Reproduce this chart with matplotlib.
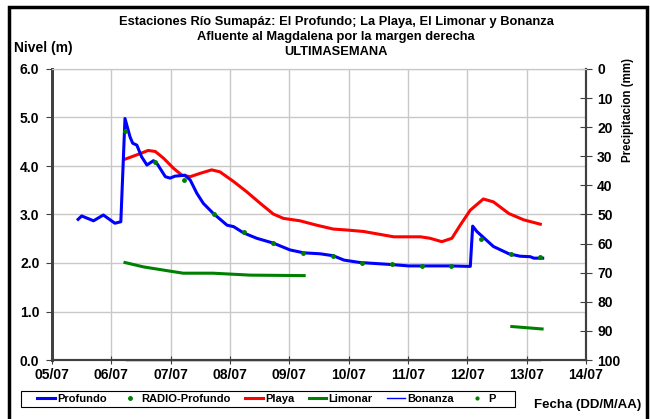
import matplotlib
matplotlib.use("Agg")
from matplotlib import pyplot as plt
from matplotlib.lines import Line2D
from matplotlib.patches import Rectangle

plt.rcParams['font.family'] = ['Liberation Sans', 'DejaVu Sans']
plt.rcParams['font.weight'] = 'bold'

# ---------------- DATA (days after 05/07 00:00) ----------------
day_labels = ["05/07", "06/07", "07/07", "08/07", "09/07", "10/07",
              "11/07", "12/07", "13/07", "14/07"]

profundo_x = [0.44, 0.50, 0.70, 0.865, 1.06, 1.16, 1.23, 1.315, 1.36, 1.43,
              1.51, 1.60, 1.71, 1.77, 1.91, 1.99, 2.07, 2.24, 2.33, 2.44,
              2.55, 2.72, 2.95, 3.06, 3.23, 3.45, 3.73, 4.01, 4.24, 4.52,
              4.74, 4.92, 5.19, 5.70, 6.01, 6.21, 6.71, 7.05, 7.09, 7.16,
              7.44, 7.70, 7.89, 8.06, 8.12, 8.27]
profundo_y = [2.90, 2.97, 2.87, 2.99, 2.82, 2.85, 4.98, 4.60, 4.47, 4.43,
              4.19, 4.02, 4.11, 4.05, 3.78, 3.75, 3.79, 3.81, 3.71, 3.44,
              3.23, 3.02, 2.78, 2.75, 2.62, 2.51, 2.41, 2.27, 2.21, 2.19,
              2.15, 2.06, 2.01, 1.97, 1.94, 1.94, 1.94, 1.93, 2.76, 2.65,
              2.34, 2.19, 2.14, 2.13, 2.10, 2.10]

radio_x = [1.23, 1.73, 2.23, 2.73, 3.23, 3.73, 4.23, 4.73, 5.23, 5.73,
           6.23, 6.73, 7.23, 7.73, 8.23]
radio_y = [4.73, 4.09, 3.71, 3.01, 2.63, 2.41, 2.21, 2.15, 2.01, 1.97,
           1.94, 1.94, 2.50, 2.19, 2.12]

playa_x = [1.23, 1.43, 1.62, 1.74, 1.88, 2.05, 2.19, 2.33, 2.50, 2.69,
           2.83, 3.06, 3.28, 3.51, 3.73, 3.90, 4.18, 4.46, 4.74, 4.97,
           5.25, 5.76, 6.21, 6.37, 6.57, 6.74, 6.88, 7.05, 7.27, 7.44,
           7.70, 7.95, 8.23]
playa_y = [4.14, 4.23, 4.32, 4.30, 4.16, 3.95, 3.81, 3.78, 3.85, 3.92,
           3.88, 3.68, 3.47, 3.23, 3.01, 2.92, 2.87, 2.78, 2.70, 2.68,
           2.65, 2.54, 2.54, 2.51, 2.44, 2.51, 2.78, 3.09, 3.32, 3.26,
           3.02, 2.89, 2.80]

limonar_x1 = [1.23, 1.54, 2.00, 2.21, 2.71, 3.34, 4.25]
limonar_y1 = [2.01, 1.92, 1.83, 1.79, 1.79, 1.75, 1.74]
limonar_x2 = [7.75, 8.26]
limonar_y2 = [0.69, 0.64]

bonanza_x = [1.25, 8.23]
bonanza_y = [0.0, 0.0]

# precipitation (no readable rain values in the picture)
p_x = []
p_y = []

# ---------------- FIGURE ----------------
fig = plt.figure(figsize=(6.5, 4.19), dpi=100)
ax = fig.add_axes([52 / 650, 1 - 360 / 419, 534 / 650, 291 / 419])
ax2 = ax.twinx()

grid_col = "#c8c8c8"
for d in range(1, 9):
    ax.axvline(d, color=grid_col, lw=1.0, zorder=0)
for v in range(1, 7):
    ax.axhline(v, color=grid_col, lw=1.0, zorder=0)

ax.plot(profundo_x, profundo_y, color="#0000ff", lw=2.2, zorder=3)
ax.plot(radio_x, radio_y, ls="none", marker="o", ms=2.5, color="#008000", zorder=4)
ax.plot(playa_x, playa_y, color="#ff0000", lw=2.2, zorder=2)
ax.plot(limonar_x1, limonar_y1, color="#008000", lw=2.2, zorder=2)
ax.plot(limonar_x2, limonar_y2, color="#008000", lw=2.2, zorder=2)
ax.plot(bonanza_x, bonanza_y, color="#0000ff", lw=1.0, zorder=3, clip_on=False)
ax2.plot(p_x, p_y, ls="none", marker="o", ms=2, color="#008000")

ax.set_xlim(0, 9)
ax.set_ylim(0, 6)
ax.set_xticks(range(10))
ax.set_xticklabels(day_labels)
ax.set_yticks(range(7))
ax.set_yticklabels([f"{v:.1f}" for v in range(7)])
ax2.set_ylim(100, 0)
ax2.set_yticks(range(0, 101, 10))

spine_col = "#404040"
for a in (ax, ax2):
    a.spines['top'].set_color(grid_col)
    a.spines['left'].set_color(spine_col)
    a.spines['left'].set_linewidth(2)
    a.spines['bottom'].set_color(spine_col)
    a.spines['bottom'].set_linewidth(1.5)
    a.spines['right'].set_color(spine_col)
    a.spines['right'].set_linewidth(1.5)

ax.tick_params(axis='x', direction='inout', length=6, color=spine_col,
               labelsize=10, pad=3)
ax.tick_params(axis='y', direction='out', length=4, color=spine_col,
               labelsize=10, pad=5)
ax2.tick_params(axis='y', direction='inout', length=8, color=spine_col,
                labelsize=10, pad=4)
for lab in ax.get_xticklabels() + ax.get_yticklabels() + ax2.get_yticklabels():
    lab.set_fontweight('bold')

# titles and axis names
fig.text(0.517, 1 - 22 / 419, "Estaciones Río Sumapáz: El Profundo; La Playa, El Limonar y Bonanza",
         ha='center', va='center', fontsize=9.3, fontweight='bold')
fig.text(0.517, 1 - 37 / 419, "Afluente al Magdalena por la margen derecha",
         ha='center', va='center', fontsize=9.3, fontweight='bold')
fig.text(0.517, 1 - 52 / 419, "ULTIMASEMANA",
         ha='center', va='center', fontsize=9.3, fontweight='bold')
fig.text(14 / 650, 1 - 48 / 419, "Nivel (m)", ha='left', va='center',
         fontsize=10, fontweight='bold')
fig.text(628 / 650, 1 - 110 / 419, "Precipitacion (mm)", ha='center', va='center',
         rotation=90, fontsize=8.3, fontweight='bold')
fig.text(588 / 650, 1 - 405 / 419, "Fecha (DD/M/AA)", ha='center', va='center',
         fontsize=9.5, fontweight='bold')

# legend
handles = [
    Line2D([], [], color="#0000ff", lw=2.2),
    Line2D([], [], ls="none", marker="o", ms=2.5, color="#008000"),
    Line2D([], [], color="#ff0000", lw=2.2),
    Line2D([], [], color="#008000", lw=2.2),
    Line2D([], [], color="#0000ff", lw=1.0),
    Line2D([], [], ls="none", marker="o", ms=2, color="#008000"),
]
names = ["Profundo", "RADIO-Profundo", "Playa", "Limonar", "Bonanza", "P"]
leg = fig.legend(handles, names, loc='center left', ncol=6,
                 bbox_to_anchor=(37 / 650, 1 - 399 / 419), fontsize=8,
                 frameon=False, handlelength=1.6, handletextpad=0.2,
                 columnspacing=1.3, borderpad=0, borderaxespad=0)
for t in leg.get_texts():
    t.set_fontweight('bold')
fig.patches.append(Rectangle((21 / 650, 1 - 407 / 419), 494 / 650, 16 / 419,
                             transform=fig.transFigure, fill=False,
                             edgecolor="black", lw=0.8))

# outer frame (left, top, right)
frame = Rectangle((9 / 650, -0.05), 638 / 650, 1.05 - 7 / 419, transform=fig.transFigure,
                  fill=False, edgecolor="black", lw=2.5, clip_on=False)
fig.patches.append(frame)

fig.savefig("out.png", dpi=100)
